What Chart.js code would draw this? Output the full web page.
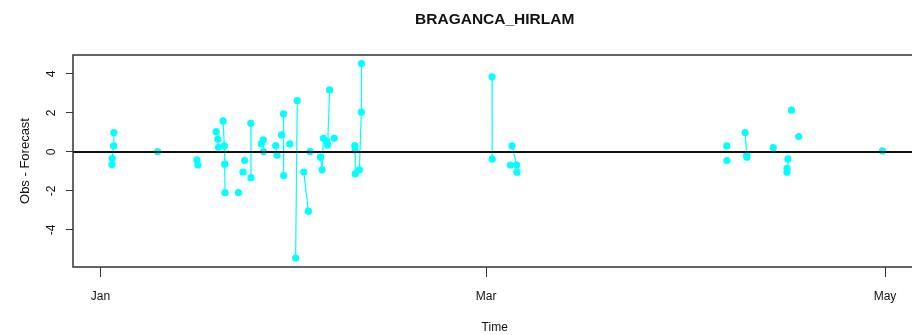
<!DOCTYPE html>
<html>
<head>
<meta charset="utf-8">
<title>BRAGANCA_HIRLAM</title>
<script src="https://cdn.jsdelivr.net/npm/chart.js@4"></script>
<style>
  html, body { margin: 0; padding: 0; background: #fff; overflow: hidden; }
  #wrap { width: 912px; height: 335px; overflow: hidden; }
</style>
</head>
<body>
<div id="wrap"><canvas id="chart" width="920" height="335"></canvas></div>
<script>
/* ── Data ─────────────────────────────────────────────── */
const chartTitle = 'BRAGANCA_HIRLAM';
const xTitle     = 'Time';
const yTitle     = 'Obs - Forecast';

// day = days since 1 Jan; null = missing obs (breaks the line, like NA in R)
const obsDay = [
  1.75, 1.8, 2.0, 2.05, null,
  8.75, null,
  14.75, 14.9, null,
  17.7, 17.95, 18.05, null,
  18.75, 18.95, 19.0, 19.05, null,
  21.1, null,
  21.8, null,
  22.05, null,
  23.0, 23.02, null,
  24.6, 24.9, 24.95, null,
  26.8, 27.0, null,
  27.7, null,
  28.0, 28.02, null,
  28.96, null,
  29.85, 30.1, null,
  31.1, 31.8, null,
  32.06, null,
  33.65, 33.9, 34.1, 34.6, 34.75, 35.05, null,
  35.75, null,
  38.9, 38.95, 38.97, 39.6, 39.9, 39.92, null,
  59.9, 59.92, null,
  62.7, null,
  62.95, 63.65, 63.7, null,
  95.8, null,
  95.82, null,
  98.6, 98.85, 98.87, null,
  102.9, null,
  105.0, 105.02, 105.15, null,
  105.7, null,
  106.8, null,
  119.6
];

const obsDiff = [
  -0.65, -0.34, 0.31, 0.99, null,
  0.02, null,
  -0.41, -0.67, null,
  1.04, 0.65, 0.24, null,
  1.59, 0.31, -0.63, -2.09, null,
  -2.09, null,
  -1.03, null,
  -0.44, null,
  1.47, -1.32, null,
  0.41, 0.62, 0.02, null,
  0.32, -0.17, null,
  0.87, null,
  1.95, -1.21, null,
  0.41, null,
  -5.44, 2.63, null,
  -1.03, -3.04, null,
  0.02, null,
  -0.27, -0.92, 0.70, 0.56, 0.36, 3.18, null,
  0.70, null,
  0.32, 0.10, -1.13, -0.92, 2.04, 4.53, null,
  3.85, -0.36, null,
  -0.67, null,
  0.31, -0.67, -1.04, null,
  0.31, null,
  -0.44, null,
  0.99, -0.15, -0.27, null,
  0.22, null,
  -1.04, -0.84, -0.36, null,
  2.14, null,
  0.79, null,
  0.05
];

const monthTicks  = [0, 59, 120];
const monthLabels = ['Jan', 'Mar', 'May'];
const diffTicks   = [-4, -2, 0, 2, 4];

/* ── Look ─────────────────────────────────────────────── */
const FONT = '"Liberation Sans", Arial, sans-serif';
const INK  = '#111';
const CYAN = '#00ffff';

Chart.defaults.font.family = FONT;
Chart.defaults.color       = INK;

/* box, zero line and the R-style texts */
const frame = {
  id: 'frame',
  afterDatasetsDraw(chart) {
    const { ctx, chartArea: a, scales: { y } } = chart;
    const cx = (a.left + a.right) / 2;
    ctx.save();

    // abline(h = 0)
    const y0 = y.getPixelForValue(0);
    ctx.strokeStyle = INK;
    ctx.lineWidth   = 2;
    ctx.beginPath(); ctx.moveTo(a.left, y0); ctx.lineTo(a.right, y0); ctx.stroke();

    // plot box
    ctx.strokeStyle = '#333';
    ctx.lineWidth   = 1.5;
    ctx.strokeRect(a.left, a.top, a.right - a.left, a.bottom - a.top);

    ctx.fillStyle    = INK;
    ctx.textAlign    = 'center';
    ctx.textBaseline = 'middle';
    ctx.font = 'bold 15.5px ' + FONT;
    ctx.fillText(chartTitle, cx, 20);

    ctx.font = '12px ' + FONT;
    ctx.fillText(xTitle, cx, 328);

    // y tick labels parallel to the axis
    diffTicks.forEach(v => {
      ctx.save();
      ctx.translate(a.left - 15, y.getPixelForValue(v));
      ctx.rotate(-Math.PI / 2);
      ctx.textBaseline = 'bottom';
      ctx.fillText(String(v), 0, 0);
      ctx.restore();
    });

    ctx.save();
    ctx.font = '13px ' + FONT;
    ctx.translate(25, (a.top + a.bottom) / 2);
    ctx.rotate(-Math.PI / 2);
    ctx.fillText(yTitle, 0, 0);
    ctx.restore();

    ctx.restore();
  }
};

new Chart(document.getElementById('chart'), {
  type: 'scatter',
  data: {
    datasets: [{
      data: obsDay.map((d, i) => ({ x: d, y: obsDiff[i] })),
      showLine:        true,
      spanGaps:        false,
      borderColor:     CYAN,
      borderWidth:     1.2,
      pointRadius:     3.6,
      pointBorderWidth: 0,
      pointBackgroundColor: CYAN,
      pointHoverRadius: 3.6,
    }]
  },
  options: {
    responsive: false,
    animation:  false,
    events:     [],
    layout: { padding: { top: 55, right: 2, left: 0, bottom: 0 } },
    plugins: {
      legend:  { display: false },
      tooltip: { enabled: false },
    },
    scales: {
      x: {
        type: 'linear',
        min: -4.2,
        max: 124.8,
        afterBuildTicks: s => { s.ticks = monthTicks.map(v => ({ value: v })); },
        afterFit: s => { s.height = 68; },
        border: { display: false },
        grid: { display: true, drawOnChartArea: false, drawTicks: true, tickLength: 10, color: '#333', lineWidth: 1 },
        ticks: {
          autoSkip: false, maxRotation: 0, padding: 12,
          font: { size: 12 }, color: INK,
          callback: v => monthLabels[monthTicks.indexOf(v)] || '',
        },
      },
      y: {
        min: -5.9,
        max: 4.97,
        afterBuildTicks: s => { s.ticks = diffTicks.map(v => ({ value: v })); },
        afterFit: s => { s.width = 73; },
        border: { display: false },
        grid: { display: true, drawOnChartArea: false, drawTicks: true, tickLength: 7, color: '#333', lineWidth: 1 },
        ticks: { display: false },
      }
    }
  },
  plugins: [frame]
});
</script>
</body>
</html>
